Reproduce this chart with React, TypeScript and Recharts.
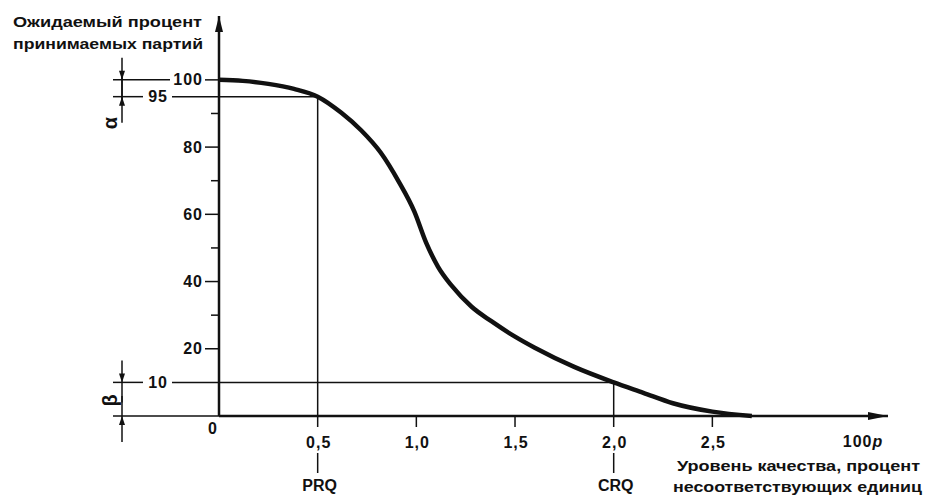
import React from "react";
import { LineChart, Line, XAxis, YAxis, ReferenceLine, ReferenceDot, Label } from "recharts";

// OC curve
const qualityLevel = [0, 0.12, 0.25, 0.38, 0.5, 0.62, 0.72, 0.82, 0.91, 0.99, 1.05, 1.11, 1.18, 1.28, 1.38, 1.5, 1.6, 1.8, 2.0, 2.15, 2.3, 2.5, 2.7];
const acceptPct = [100, 99.7, 98.8, 97.3, 95, 90.2, 85.0, 78.3, 69.8, 60.8, 51.5, 44.4, 38.7, 32.5, 28.2, 23.6, 20.3, 14.6, 10, 6.9, 3.8, 1.3, 0];

const xTicks = [0, 0.5, 1, 1.5, 2, 2.5];
const xTickLabels = ["0", "0,5", "1,0", "1,5", "2,0", "2,5"];
const yMajorTicks = [0, 10, 20, 40, 60, 80, 95, 100];
const yMinorTicks = [30, 50, 70, 90];
const yTicks = [...yMajorTicks, ...yMinorTicks].sort((a, b) => a - b);

const PRQ = { q: 0.5, p: 95, name: "PRQ" };
const CRQ = { q: 2.0, p: 10, name: "CRQ" };

const yTitle = ["Ожидаемый процент", "принимаемых партий"];
const xTitle = ["Уровень качества, процент", "несоответствующих единиц"];

const data = qualityLevel.map((q, i) => ({ q, p: acceptPct[i] }));

const FONT = "'Liberation Sans', Arial, sans-serif";
const txt = { fontFamily: FONT, fontWeight: 700, fontSize: 16, fill: "#111", letterSpacing: 1 } as const;

const Arrow = ({ x, y, dir }: { x: number; y: number; dir: "up" | "down" }) => {
  const s = dir === "down" ? -1 : 1;
  return <path d={`M${x},${y} L${x - 3},${y + s * 9} L${x + 3},${y + s * 9} Z`} fill="#111" />;
};

function YTick(props: any) {
  const { x, y, payload } = props;
  const v = payload.value;
  const dx = 122 - 219; // dimension line offset from axis
  if (yMinorTicks.includes(v)) {
    return <line x1={x - 8} x2={x} y1={y} y2={y} stroke="#111" strokeWidth={1.5} />;
  }
  const far = v === 95 || v === 10;
  const endX = far ? x - 51 : x - 16;
  return (
    <g>
      {v !== 0 && (
        <text x={endX} y={y} textAnchor="end" dominantBaseline="central" {...txt}>
          {v}
        </text>
      )}
      {v === 0 && <line x1={x - 106} x2={x} y1={y} y2={y} stroke="#111" strokeWidth={1.5} />}
      {v === 100 && <line x1={x - 106} x2={x - 49} y1={y} y2={y} stroke="#111" strokeWidth={1.5} />}
      {far && <line x1={x - 106} x2={x - 76} y1={y} y2={y} stroke="#111" strokeWidth={1.5} />}
      {far && <line x1={x - 47} x2={x} y1={y} y2={y} stroke="#111" strokeWidth={1.5} />}
      {!far && v !== 0 && <line x1={x - 14} x2={x} y1={y} y2={y} stroke="#111" strokeWidth={1.5} />}
      {/* alpha / beta dimension arrows */}
      {(v === 100 || v === 10) && (
        <g>
          <line x1={x + dx} x2={x + dx} y1={y - 22} y2={y + 20} stroke="#111" strokeWidth={1.5} />
          <Arrow x={x + dx} y={y} dir="down" />
        </g>
      )}
      {(v === 95 || v === 0) && (
        <g>
          <line x1={x + dx} x2={x + dx} y1={y + 26} y2={y - 20} stroke="#111" strokeWidth={1.5} />
          <Arrow x={x + dx} y={y} dir="up" />
          <text
            x={x + dx - 12}
            y={v === 95 ? y + 26 : y - 16}
            transform={`rotate(-90 ${x + dx - 12} ${v === 95 ? y + 26 : y - 16})`}
            textAnchor="middle"
            dominantBaseline="central"
            {...txt}
            fontSize={20}
          >
            {v === 95 ? "α" : "β"}
          </text>
        </g>
      )}
    </g>
  );
}

function XTick(props: any) {
  const { x, y, payload } = props;
  const i = xTicks.indexOf(payload.value);
  const label = xTickLabels[i];
  if (payload.value === 0) {
    return (
      <text x={x - 6} y={y + 12} textAnchor="middle" dominantBaseline="central" {...txt}>
        {label}
      </text>
    );
  }
  const mark = [PRQ, CRQ].find((m) => m.q === payload.value);
  return (
    <g>
      <line x1={x} x2={x} y1={y} y2={y + 11} stroke="#111" strokeWidth={1.5} />
      <text x={x + 1} y={y + 26} textAnchor="middle" dominantBaseline="central" {...txt}>
        {label}
      </text>
      {mark && (
        <g>
          <line x1={x} x2={x} y1={y + 37} y2={y + 57} stroke="#111" strokeWidth={1.5} />
          <text x={x + 2} y={y + 69} textAnchor="middle" dominantBaseline="central" {...txt} letterSpacing={0}>
            {mark.name}
          </text>
        </g>
      )}
    </g>
  );
}

const XTitle = (props: any) => {
  const { viewBox } = props;
  const right = viewBox.x + viewBox.width;
  return (
    <g>
      <text x={right - 25} y={viewBox.y + 25} textAnchor="middle" dominantBaseline="central" {...txt}>
        100<tspan fontStyle="italic">p</tspan>
      </text>
      <text x={677} y={466} dominantBaseline="central" {...txt} fontSize={14} letterSpacing={0} textLength={243} lengthAdjust="spacingAndGlyphs">
        {xTitle[0]}
      </text>
      <text x={673} y={487} dominantBaseline="central" {...txt} fontSize={14} letterSpacing={0} textLength={249} lengthAdjust="spacingAndGlyphs">
        {xTitle[1]}
      </text>
    </g>
  );
};

const YTitle = () => (
  <g>
    <text x={13} y={22} dominantBaseline="central" {...txt} fontSize={14} letterSpacing={0} textLength={189} lengthAdjust="spacingAndGlyphs">
      {yTitle[0]}
    </text>
    <text x={13} y={44} dominantBaseline="central" {...txt} fontSize={14} letterSpacing={0} textLength={190} lengthAdjust="spacingAndGlyphs">
      {yTitle[1]}
    </text>
  </g>
);

export default function App() {
  return (
    <div style={{ position: "absolute", left: 0, top: 0, width: 926, height: 497, background: "#fff" }}>
      <LineChart width={926} height={497} data={data} margin={{ top: 16, right: 38, bottom: 51, left: 159 }}>
        <XAxis
          dataKey="q"
          type="number"
          domain={[0, 3.39]}
          ticks={xTicks}
          interval={0}
          tickSize={0}
          tickMargin={0}
          tick={<XTick />}
          height={30}
          axisLine={{ stroke: "#111", strokeWidth: 2.5 }}
        >
          <Label content={<XTitle />} />
        </XAxis>
        <YAxis
          type="number"
          domain={[0, 119]}
          ticks={yTicks}
          interval={0}
          tickSize={0}
          tickMargin={0}
          tick={<YTick />}
          width={60}
          axisLine={{ stroke: "#111", strokeWidth: 2.5 }}
        >
          <Label content={<YTitle />} />
        </YAxis>
        <ReferenceLine segment={[{ x: 0, y: PRQ.p }, { x: PRQ.q, y: PRQ.p }]} stroke="#111" strokeWidth={1.5} />
        <ReferenceLine segment={[{ x: PRQ.q, y: 0 }, { x: PRQ.q, y: PRQ.p }]} stroke="#111" strokeWidth={1.5} />
        <ReferenceLine segment={[{ x: 0, y: CRQ.p }, { x: CRQ.q, y: CRQ.p }]} stroke="#111" strokeWidth={1.5} />
        <ReferenceLine segment={[{ x: CRQ.q, y: 0 }, { x: CRQ.q, y: CRQ.p }]} stroke="#111" strokeWidth={1.5} />
        <Line
          dataKey="p"
          type="monotone"
          stroke="#111"
          strokeWidth={4.5}
          dot={false}
          isAnimationActive={false}
        />
        <ReferenceDot
          x={0}
          y={119}
          r={0}
          ifOverflow="visible"
          shape={(p: any) => <path d={`M${p.cx},${p.cy} L${p.cx - 4},${p.cy + 16} L${p.cx + 4},${p.cy + 16} Z`} fill="#111" />}
        />
        <ReferenceDot
          x={3.39}
          y={0}
          r={0}
          ifOverflow="visible"
          shape={(p: any) => <path d={`M${p.cx},${p.cy} L${p.cx - 20},${p.cy - 4} L${p.cx - 20},${p.cy + 4} Z`} fill="#111" />}
        />
      </LineChart>
    </div>
  );
}
